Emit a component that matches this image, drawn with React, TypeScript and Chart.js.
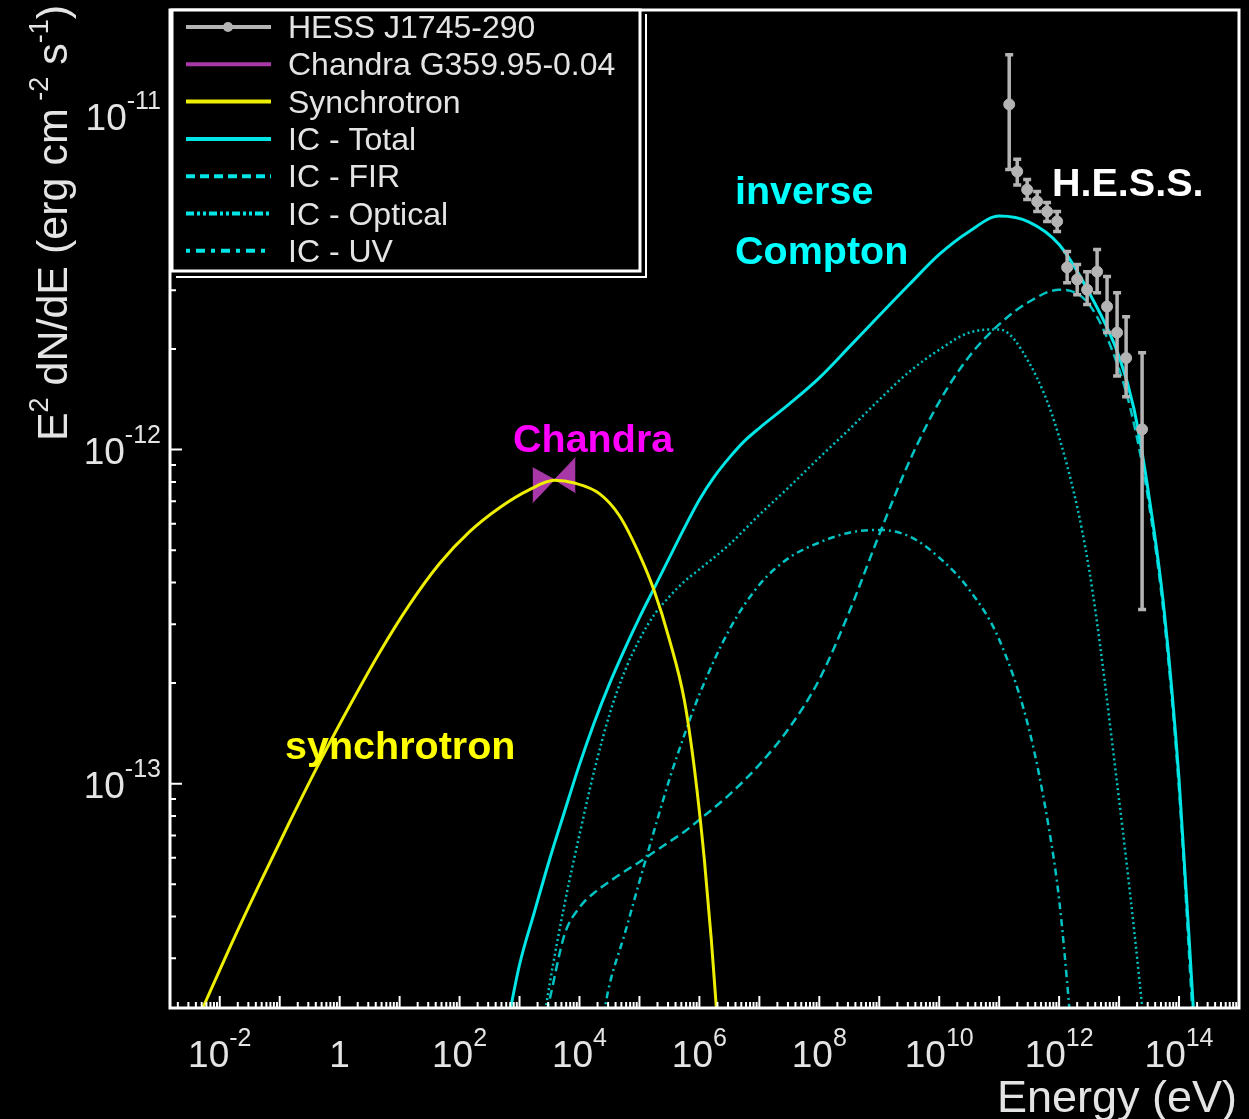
import React, { useEffect, useRef } from 'react';
import { Chart, registerables } from 'chart.js';

Chart.register(...registerables);

// ---------------- data (E in eV, E^2 dN/dE in erg cm^-2 s^-1) ----------------
const synchE = [3.98e-3, 5.21e-3, 1.47e-2, 4.64e-2, 0.147, 0.464, 1.47, 4.64, 14.7, 46.4, 147, 464, 1470, 3830, 8250, 2.15e4, 4.64e4, 1.0e5, 1.78e5, 3.16e5, 5.6e5, 8.3e5, 1.21e6, 1.58e6, 1.92e6, 2.1e6];
const synchF = [1.91e-14, 2.13e-14, 3.23e-14, 5.02e-14, 7.69e-14, 1.16e-13, 1.71e-13, 2.47e-13, 3.44e-13, 4.56e-13, 5.68e-13, 6.70e-13, 7.59e-13, 8.09e-13, 7.94e-13, 7.38e-13, 6.34e-13, 4.85e-13, 3.76e-13, 2.70e-13, 1.78e-13, 1.10e-13, 5.92e-14, 3.41e-14, 2.13e-14, 1.75e-14];

const icTotalE = [631, 1000, 1778, 3162, 5623, 1e4, 1.778e4, 3.162e4, 5.623e4, 1e5, 1.778e5, 3.162e5, 5.623e5, 1e6, 1.778e6, 3.162e6, 5.623e6, 1e7, 3.162e7, 1e8, 3.162e8, 1e9, 3.162e9, 1e10, 3.162e10, 1e11, 3.162e11, 1e12, 3.162e12, 1e13, 1.778e13, 3.162e13, 5.623e13, 1e14, 1.778e14];
const icTotalF = [1.91e-14, 2.87e-14, 4.14e-14, 5.92e-14, 8.24e-14, 1.14e-13, 1.53e-13, 1.99e-13, 2.52e-13, 3.14e-13, 3.86e-13, 4.75e-13, 5.83e-13, 7.08e-13, 8.30e-13, 9.46e-13, 1.06e-12, 1.16e-12, 1.37e-12, 1.64e-12, 2.03e-12, 2.52e-12, 3.12e-12, 3.84e-12, 4.50e-12, 5.00e-12, 4.80e-12, 4.11e-12, 2.95e-12, 1.90e-12, 1.32e-12, 7.23e-13, 3.32e-13, 1.03e-13, 1.96e-14];

const icFirE = [2818, 3162, 5623, 1e4, 1.778e4, 3.162e4, 5.623e4, 1e5, 1.778e5, 3.162e5, 5.623e5, 1e6, 3.162e6, 1e7, 3.162e7, 1e8, 3.162e8, 1e9, 3.162e9, 1e10, 3.162e10, 1e11, 3.162e11, 1e12, 3.162e12, 1e13, 1.778e13, 3.162e13, 5.623e13, 1e14, 1.778e14];
const icFirF = [2.07e-14, 2.25e-14, 3.53e-14, 4.26e-14, 4.72e-14, 5.09e-14, 5.46e-14, 5.83e-14, 6.25e-14, 6.70e-14, 7.18e-14, 7.80e-14, 9.27e-14, 1.14e-13, 1.47e-13, 2.05e-13, 3.27e-13, 5.57e-13, 9.20e-13, 1.39e-12, 1.90e-12, 2.37e-12, 2.77e-12, 3.01e-12, 2.72e-12, 1.74e-12, 1.19e-12, 6.84e-13, 3.14e-13, 9.59e-14, 1.71e-14];

const icOptE = [2630, 3162, 5623, 1e4, 1.778e4, 3.162e4, 5.623e4, 1e5, 1.778e5, 3.162e5, 5.623e5, 1e6, 3.162e6, 1e7, 3.162e7, 1e8, 3.162e8, 1e9, 3.162e9, 1e10, 3.162e10, 1e11, 3.162e11, 1e12, 3.162e12, 1e13, 1.778e13, 2.51e13];
const icOptF = [2.03e-14, 2.50e-14, 4.35e-14, 7.03e-14, 1.10e-13, 1.61e-13, 2.16e-13, 2.70e-13, 3.21e-13, 3.63e-13, 4.03e-13, 4.38e-13, 5.20e-13, 6.38e-13, 7.74e-13, 9.46e-13, 1.15e-12, 1.41e-12, 1.71e-12, 1.99e-12, 2.24e-12, 2.29e-12, 1.82e-12, 1.09e-12, 4.38e-13, 8.95e-14, 3.66e-14, 2.03e-14];

const icUvE = [2.51e4, 3.162e4, 5.623e4, 1e5, 1.778e5, 3.162e5, 5.623e5, 1e6, 3.162e6, 1e7, 3.162e7, 1e8, 3.162e8, 1e9, 3.162e9, 1e10, 3.162e10, 1e11, 3.162e11, 6.81e11, 1e12, 1.48e12, 1.78e12];
const icUvF = [2.03e-14, 2.50e-14, 3.53e-14, 5.09e-14, 7.28e-14, 1.03e-13, 1.40e-13, 1.85e-13, 2.89e-13, 3.94e-13, 4.75e-13, 5.27e-13, 5.64e-13, 5.75e-13, 5.50e-13, 4.75e-13, 3.81e-13, 2.70e-13, 1.45e-13, 7.28e-14, 4.50e-14, 2.13e-14, 1.39e-14];

const hessE = [1.47e11, 2.0e11, 2.93e11, 4.3e11, 6.3e11, 9.26e11, 1.36e12, 2.0e12, 2.93e12, 4.3e12, 6.3e12, 9.26e12, 1.31e13, 2.42e13];
const hessF = [1.08e-11, 6.8e-12, 6.0e-12, 5.53e-12, 5.16e-12, 4.82e-12, 3.51e-12, 3.23e-12, 3.01e-12, 3.41e-12, 2.68e-12, 2.24e-12, 1.88e-12, 1.15e-12];
const hessHi = [1.52e-11, 7.4e-12, 6.43e-12, 5.92e-12, 5.49e-12, 5.16e-12, 3.92e-12, 3.58e-12, 3.41e-12, 3.97e-12, 3.30e-12, 2.95e-12, 2.50e-12, 1.95e-12];
const hessLo = [6.9e-12, 6.2e-12, 5.61e-12, 5.16e-12, 4.82e-12, 4.50e-12, 3.16e-12, 2.91e-12, 2.72e-12, 2.95e-12, 2.24e-12, 1.66e-12, 1.44e-12, 3.32e-13];

const chandraE = [1650, 3830, 8580];
const chandraHi = [8.83e-13, 8.13e-13, 9.46e-13];
const chandraLo = [6.93e-13, 8.13e-13, 7.43e-13];

const xLabelExps = [-2, 0, 2, 4, 6, 8, 10, 12, 14];
const yLabelExps = [-13, -12, -11];
const xDecades = [-3, -2, -1, 0, 1, 2, 3, 4, 5, 6, 7, 8, 9, 10, 11, 12, 13, 14];
const yDecades = [-14, -13, -12, -11];

const legendLabels = ['HESS J1745-290', 'Chandra G359.95-0.04', 'Synchrotron', 'IC - Total', 'IC - FIR', 'IC - Optical', 'IC - UV'];

const X_MIN = 1.48e-3;
const X_MAX = 1e15;
const Y_MIN = 2.13e-14;
const Y_MAX = 2.07e-11;

// ---------------- styles ----------------
const W = 1249;
const H = 1119;
const FONT = '"Liberation Sans", Arial, Helvetica, sans-serif';
const C_YELLOW = '#eeee00';
const C_CYAN = '#00e6e6';
const C_CYAN_DIM = '#00c4c4';
const C_GRAY = '#b4b4b4';
const C_PURPLE = '#a838a8';
const C_TEXT = '#e4e4e4';
const DASH_FIR = [9, 5];
const DASH_OPT = [2, 3];
const DASH_UV = [7, 4, 2, 4];

const pts = (xs: number[], ys: number[]) => xs.map((x, i) => ({ x, y: ys[i] }));

type Part = { t: string; sup?: boolean };

function drawRich(ctx: CanvasRenderingContext2D, parts: Part[], x: number, y: number, align: string, mainPx: number, supPx: number, raise: number) {
  const mainF = `${mainPx}px ${FONT}`;
  const supF = `${supPx}px ${FONT}`;
  const widths = parts.map((p) => {
    ctx.font = p.sup ? supF : mainF;
    return ctx.measureText(p.t).width;
  });
  const total = widths.reduce((a, b) => a + b, 0);
  let cx = align === 'left' ? x : align === 'right' ? x - total : x - total / 2;
  ctx.textAlign = 'left';
  ctx.textBaseline = 'alphabetic';
  parts.forEach((p, i) => {
    ctx.font = p.sup ? supF : mainF;
    ctx.fillText(p.t, cx, p.sup ? y - raise : y);
    cx += widths[i];
  });
}

const decorPlugin = {
  id: 'decor',
  beforeDraw(chart: any) {
    const ctx = chart.ctx as CanvasRenderingContext2D;
    ctx.save();
    ctx.fillStyle = '#000';
    ctx.fillRect(0, 0, W, H);
    ctx.restore();
  },
  afterDatasetsDraw(chart: any) {
    const ctx = chart.ctx as CanvasRenderingContext2D;
    const xs = chart.scales.x;
    const ys = chart.scales.y;
    const ca = chart.chartArea;

    // HESS error bars
    ctx.save();
    ctx.strokeStyle = C_GRAY;
    ctx.lineWidth = 3.5;
    hessE.forEach((e, i) => {
      const px = xs.getPixelForValue(e);
      const y1 = ys.getPixelForValue(hessHi[i]);
      const y2 = ys.getPixelForValue(hessLo[i]);
      ctx.beginPath();
      ctx.moveTo(px, y1);
      ctx.lineTo(px, y2);
      ctx.moveTo(px - 4, y1);
      ctx.lineTo(px + 4, y1);
      ctx.moveTo(px - 4, y2);
      ctx.lineTo(px + 4, y2);
      ctx.stroke();
    });
    ctx.restore();

    ctx.save();
    // annotations
    ctx.font = `bold 39.5px ${FONT}`;
    ctx.textAlign = 'left';
    ctx.textBaseline = 'alphabetic';
    ctx.fillStyle = '#ff00ff';
    ctx.fillText('Chandra', 513, 452);
    ctx.fillStyle = '#ffff00';
    ctx.fillText('synchrotron', 285, 759);
    ctx.fillStyle = '#00ffff';
    ctx.fillText('inverse', 735, 204);
    ctx.fillText('Compton', 735, 264);
    ctx.fillStyle = '#ffffff';
    ctx.fillText('H.E.S.S.', 1052, 196);

    // frame
    ctx.strokeStyle = '#ffffff';
    ctx.lineWidth = 3;
    ctx.strokeRect(ca.left, ca.top, ca.right - ca.left, ca.bottom - ca.top);

    // ticks
    ctx.lineWidth = 2;
    ctx.beginPath();
    yDecades.forEach((d) => {
      for (let m = 1; m <= 9; m++) {
        const v = m * Math.pow(10, d);
        if (v < Y_MIN || v > Y_MAX) continue;
        const py = ys.getPixelForValue(v);
        const len = m === 1 ? 12 : 6;
        ctx.moveTo(ca.left, py);
        ctx.lineTo(ca.left + len, py);
      }
    });
    xDecades.forEach((d) => {
      for (let m = 1; m <= 9; m++) {
        const v = m * Math.pow(10, d);
        if (v < X_MIN || v > X_MAX) continue;
        const px = xs.getPixelForValue(v);
        const len = m === 1 ? 12 : 6;
        ctx.moveTo(px, ca.bottom);
        ctx.lineTo(px, ca.bottom - len);
      }
    });
    ctx.stroke();

    // tick labels
    ctx.fillStyle = C_TEXT;
    xLabelExps.forEach((e) => {
      const px = xs.getPixelForValue(Math.pow(10, e));
      const parts: Part[] = e === 0 ? [{ t: '1' }] : [{ t: '10' }, { t: String(e), sup: true }];
      drawRich(ctx, parts, px, 1067, 'center', 37, 25, 21);
    });
    yLabelExps.forEach((e) => {
      const py = ys.getPixelForValue(Math.pow(10, e));
      drawRich(ctx, [{ t: '10' }, { t: String(e), sup: true }], 161, py + 14, 'right', 37, 25, 21);
    });

    // axis titles
    drawRich(ctx, [{ t: 'Energy (eV)' }], 1237, 1112, 'right', 45, 28, 18);
    ctx.save();
    ctx.translate(67, 5);
    ctx.rotate(-Math.PI / 2);
    drawRich(ctx, [{ t: 'E' }, { t: '2', sup: true }, { t: ' dN/dE (erg cm' }, { t: ' -2', sup: true }, { t: ' s' }, { t: '-1', sup: true }, { t: ')' }], 0, 0, 'right', 43, 27, 19);
    ctx.restore();

    // legend
    const lx = 172, ly = 10, lw = 468, lh = 261;
    ctx.strokeStyle = '#ffffff';
    ctx.lineWidth = 2;
    ctx.beginPath();
    ctx.moveTo(lx + lw + 6, ly + 4);
    ctx.lineTo(lx + lw + 6, ly + lh + 6);
    ctx.lineTo(lx + 4, ly + lh + 6);
    ctx.stroke();
    ctx.fillStyle = '#000000';
    ctx.fillRect(lx, ly, lw, lh);
    ctx.lineWidth = 3;
    ctx.strokeRect(lx, ly, lw, lh);

    const legendStyles = [
      { color: C_GRAY, dash: [] as number[], marker: true },
      { color: C_PURPLE, dash: [] as number[], marker: false },
      { color: C_YELLOW, dash: [] as number[], marker: false },
      { color: C_CYAN, dash: [] as number[], marker: false },
      { color: C_CYAN, dash: DASH_FIR, marker: false },
      { color: C_CYAN, dash: [8, 3, 3, 3, 3, 3], marker: false },
      { color: C_CYAN, dash: [4, 6, 9, 6], marker: false },
    ];
    legendLabels.forEach((label, i) => {
      const cy = 27 + i * 37.3;
      const st = legendStyles[i];
      ctx.save();
      ctx.strokeStyle = st.color;
      ctx.lineWidth = 4;
      ctx.setLineDash(st.dash);
      ctx.beginPath();
      ctx.moveTo(186, cy);
      ctx.lineTo(271, cy);
      ctx.stroke();
      ctx.restore();
      if (st.marker) {
        ctx.fillStyle = C_GRAY;
        ctx.beginPath();
        ctx.arc(228, cy, 5, 0, Math.PI * 2);
        ctx.fill();
      }
      ctx.fillStyle = C_TEXT;
      ctx.font = `32px ${FONT}`;
      ctx.textAlign = 'left';
      ctx.fillText(label, 288, cy + 11);
    });
    ctx.restore();
  },
};

export default function App() {
  const ref = useRef<HTMLCanvasElement | null>(null);
  useEffect(() => {
    if (!ref.current) return;
    const lineDs = (label: string, xsArr: number[], ysArr: number[], color: string, width: number, dash: number[], order: number) => ({
      label,
      data: pts(xsArr, ysArr),
      borderColor: color,
      borderWidth: width,
      borderDash: dash,
      pointRadius: 0,
      fill: false,
      cubicInterpolationMode: 'monotone' as const,
      order,
    });
    const chart = new Chart(ref.current, {
      type: 'line',
      data: {
        datasets: [
          {
            label: 'HESS J1745-290',
            data: pts(hessE, hessF),
            showLine: false,
            pointRadius: 5.5,
            pointBackgroundColor: C_GRAY,
            pointBorderColor: C_GRAY,
            borderColor: C_GRAY,
            order: 0,
          },
          lineDs('Synchrotron', synchE, synchF, C_YELLOW, 3, [], 1),
          lineDs('IC - Total', icTotalE, icTotalF, C_CYAN, 3, [], 2),
          lineDs('IC - FIR', icFirE, icFirF, C_CYAN_DIM, 2.5, DASH_FIR, 3),
          lineDs('IC - Optical', icOptE, icOptF, C_CYAN_DIM, 2.5, DASH_OPT, 4),
          lineDs('IC - UV', icUvE, icUvF, C_CYAN_DIM, 2.5, DASH_UV, 5),
          {
            label: 'Chandra G359.95-0.04',
            data: pts(chandraE, chandraHi),
            borderColor: C_PURPLE,
            borderWidth: 1,
            backgroundColor: C_PURPLE,
            pointRadius: 0,
            tension: 0,
            fill: '+1',
            order: 6,
          },
          {
            label: 'Chandra low',
            data: pts(chandraE, chandraLo),
            borderColor: C_PURPLE,
            borderWidth: 1,
            pointRadius: 0,
            tension: 0,
            fill: false,
            order: 7,
          },
        ] as any,
      },
      options: {
        animation: false,
        responsive: false,
        maintainAspectRatio: false,
        devicePixelRatio: 1,
        layout: { padding: { top: 10, right: 10, left: 0, bottom: 0 } },
        plugins: { legend: { display: false }, tooltip: { enabled: false }, title: { display: false } },
        scales: {
          x: {
            type: 'logarithmic',
            min: X_MIN,
            max: X_MAX,
            grid: { display: false },
            border: { display: false },
            ticks: { display: false },
            afterFit: (s: any) => {
              s.height = 111;
            },
          },
          y: {
            type: 'logarithmic',
            min: Y_MIN,
            max: Y_MAX,
            grid: { display: false },
            border: { display: false },
            ticks: { display: false },
            afterFit: (s: any) => {
              s.width = 170;
            },
          },
        },
      } as any,
      plugins: [decorPlugin],
    });
    return () => chart.destroy();
  }, []);
  return (
    <div style={{ position: 'absolute', left: 0, top: 0, width: W, height: H, background: '#000' }}>
      <canvas ref={ref} width={W} height={H} style={{ display: 'block', width: W, height: H }} />
    </div>
  );
}
